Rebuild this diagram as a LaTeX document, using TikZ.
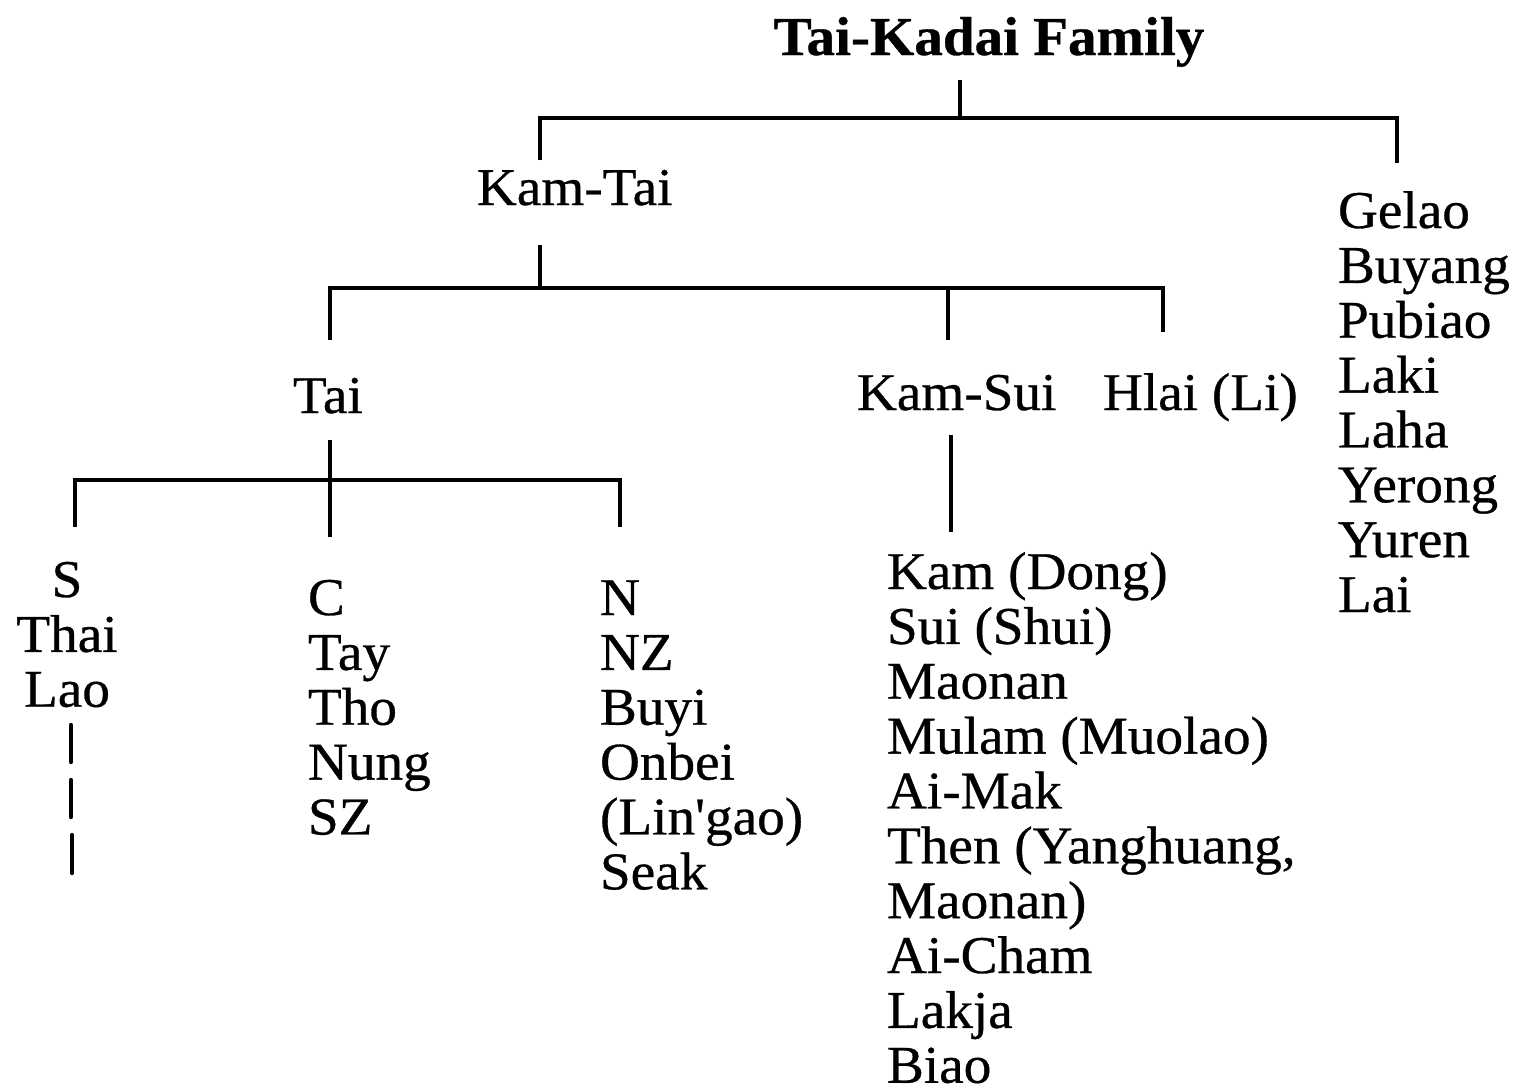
\documentclass[tikz,border=0pt]{standalone}
\usepackage{fontspec}
\setmainfont{Liberation Serif}[Ligatures=TeXOff,FakeBold=0.6,FakeStretch=1.04]
\begin{document}
\begin{tikzpicture}[x=0.01cm,y=-0.01cm,
  conn/.style={line width=1.25pt,line join=miter,line cap=butt},
  lbl/.style={inner sep=0pt,outer sep=0pt,font=\fontsize{15.1}{15.6}\selectfont},
  ttl/.style={inner sep=0pt,outer sep=0pt,font=\fontsize{15.6}{16}\selectfont\bfseries}]
\useasboundingbox (0,0) rectangle (1519,1090);
% texts
\node[ttl,anchor=base] (title) at (989,55) {Tai-Kadai Family};
\node[lbl,anchor=base west] (kamtai) at (477,205) {Kam-Tai};
\node[lbl,anchor=base west] (gelao) at (1338,228) {\begin{tabular}[t]{@{}l@{}}Gelao\\Buyang\\Pubiao\\Laki\\Laha\\Yerong\\Yuren\\Lai\end{tabular}};
\node[lbl,anchor=base west] (tai) at (293,413) {Tai};
\node[lbl,anchor=base west] (kamsui) at (857,410) {Kam-Sui};
\node[lbl,anchor=base west] (hlai) at (1103,410) {Hlai (Li)};
\node[lbl,anchor=base] (slist) at (67,597) {\begin{tabular}[t]{@{}c@{}}S\\Thai\\Lao\end{tabular}};
\node[lbl,anchor=base west] (clist) at (308,615) {\begin{tabular}[t]{@{}l@{}}C\\Tay\\Tho\\Nung\\SZ\end{tabular}};
\node[lbl,anchor=base west] (nlist) at (600,615) {\begin{tabular}[t]{@{}l@{}}N\\NZ\\Buyi\\Onbei\\(Lin'gao)\\Seak\end{tabular}};
\node[lbl,anchor=base west] (kslist) at (887,589) {\begin{tabular}[t]{@{}l@{}}Kam (Dong)\\Sui (Shui)\\Maonan\\Mulam (Muolao)\\Ai-Mak\\Then (Yanghuang,\\Maonan)\\Ai-Cham\\Lakja\\Biao\end{tabular}};
% junction coordinates
\coordinate (r1) at (960,80);
\coordinate (r2) at (960,118);
\coordinate (b1L) at (540,118);
\coordinate (b1R) at (1397,118);
\coordinate (ktIn) at (540,160);
\coordinate (glIn) at (1397,163);
\coordinate (ktOut) at (540,245);
\coordinate (ktBar) at (540,288);
\coordinate (b2L) at (330,288);
\coordinate (b2R) at (1163,288);
\coordinate (b2M) at (948,288);
\coordinate (taiIn) at (330,340);
\coordinate (ksIn) at (948,340);
\coordinate (hlIn) at (1163,332);
\coordinate (ksOut) at (951,435);
\coordinate (ksEnd) at (951,532);
\coordinate (taiOut) at (330,440);
\coordinate (cIn) at (330,537);
\coordinate (b3L) at (75,480);
\coordinate (b3R) at (620,480);
\coordinate (sIn) at (75,527);
\coordinate (nIn) at (620,527);
\coordinate (d1a) at (71,725); \coordinate (d1b) at (71,762);
\coordinate (d2a) at (71,780); \coordinate (d2b) at (71,817);
\coordinate (d3a) at (72,835); \coordinate (d3b) at (72,873);
% connectors
\draw[conn] (r1) -- (r2);
\draw[conn] (ktIn) -- (b1L) -- (b1R) -- (glIn);
\draw[conn] (ktOut) -- (ktBar);
\draw[conn] (taiIn) -- (b2L) -- (b2R) -- (hlIn);
\draw[conn] (b2M) -- (ksIn);
\draw[conn] (ksOut) -- (ksEnd);
\draw[conn] (taiOut) -- (cIn);
\draw[conn] (sIn) -- (b3L) -- (b3R) -- (nIn);
\draw[conn,line cap=round] (d1a) -- (d1b);
\draw[conn,line cap=round] (d2a) -- (d2b);
\draw[conn,line cap=round] (d3a) -- (d3b);
\end{tikzpicture}
\end{document}
